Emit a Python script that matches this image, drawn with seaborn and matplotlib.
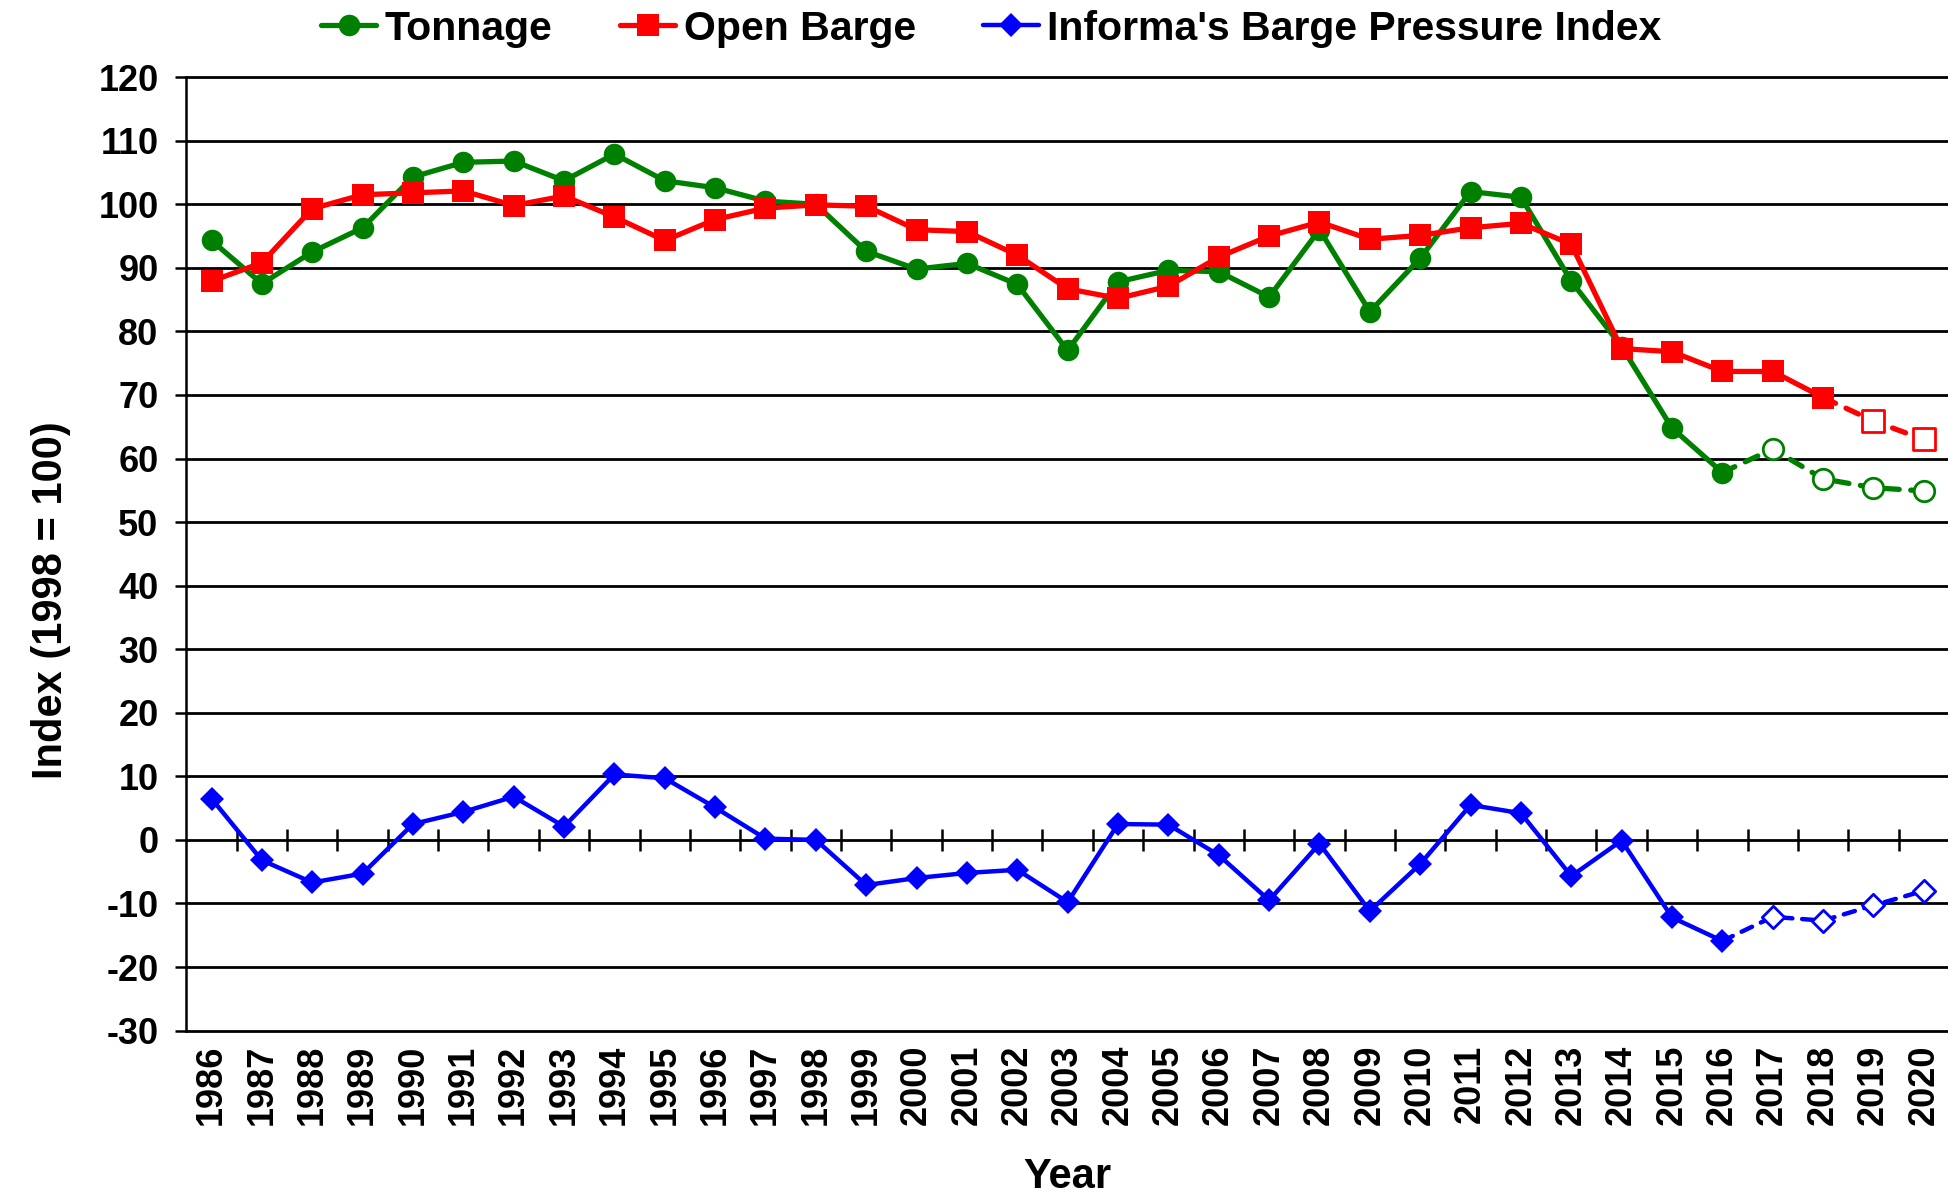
import numpy as np
import pandas as pd
import matplotlib
matplotlib.use("Agg")
import matplotlib.pyplot as plt
import seaborn as sns
from matplotlib.lines import Line2D

# ---------------- data ----------------
years = list(range(1986, 2021))
tonnage = [94.3, 87.5, 92.5, 96.3, 104.3, 106.6, 106.8, 103.7, 107.9, 103.7,
           102.6, 100.5, 100.0, 92.6, 89.8, 90.7, 87.4, 77.0, 87.8, 89.6,
           89.4, 85.4, 96.0, 83.1, 91.5, 102.0, 101.1, 87.9, 77.6, 64.8,
           57.8, 61.5, 56.8, 55.4, 54.9]
open_barge = [87.9, 90.8, 99.3, 101.5, 101.8, 102.1, 99.8, 101.3, 98.0, 94.3,
              97.6, 99.4, 99.9, 99.7, 96.0, 95.7, 92.0, 86.7, 85.2, 87.1,
              91.7, 95.0, 97.2, 94.5, 95.1, 96.3, 97.0, 93.7, 77.3, 76.8,
              73.7, 73.7, 69.6, 65.9, 63.0]
bpi = [6.5, -3.2, -6.7, -5.3, 2.5, 4.4, 6.8, 2.1, 10.3, 9.7,
       5.1, 0.2, 0.0, -7.1, -6.0, -5.2, -4.7, -9.8, 2.5, 2.4,
       -2.4, -9.5, -0.6, -11.2, -3.8, 5.5, 4.2, -5.7, -0.1, -12.2,
       -15.9, -12.1, -12.7, -10.3, -8.0]
series_names = ["Tonnage", "Open Barge", "Informa's Barge Pressure Index"]
last_actual = [2016, 2018, 2016]
yticks = list(range(-30, 121, 10))

# ---------------- style ----------------
sns.set_theme(style="white")
plt.rcParams["font.family"] = ["Liberation Sans", "DejaVu Sans"]
plt.rcParams["font.weight"] = "bold"
for key in ["text.color", "axes.labelcolor", "xtick.color", "ytick.color"]:
    plt.rcParams[key] = "black"

colors = ["#008000", "#FF0000", "#0000FF"]
markers = ["o", "s", "D"]
msizes = [15.5, 16, 12]
lws = [3.8, 3.8, 3.2]

fig = plt.figure(figsize=(19.49, 11.96), dpi=100)
ax = fig.add_axes([0.0956, 0.1383, 0.9044, 0.7972])

values = [tonnage, open_barge, bpi]
for vals, name, last, c, m, ms, lw in zip(values, series_names, last_actual,
                                          colors, markers, msizes, lws):
    df = pd.DataFrame({"Year": years, "Value": vals})
    solid = df[df["Year"] <= last]
    fut = df[df["Year"] >= last]
    proj = df[df["Year"] > last]
    sns.lineplot(data=fut, x="Year", y="Value", ax=ax, color=c, lw=lw,
                 linestyle=(0, (2.6, 2.2)), dash_capstyle="round", zorder=3)
    sns.lineplot(data=solid, x="Year", y="Value", ax=ax, color=c, lw=lw,
                 marker=m, markersize=ms, markeredgewidth=0,
                 markerfacecolor=c, zorder=4)
    sns.scatterplot(data=proj, x="Year", y="Value", ax=ax, marker=m,
                    s=(ms * 0.95) ** 2, facecolor="white", edgecolor=c,
                    linewidth=2.0, zorder=5)

# axes limits & ticks
ax.set_xlim(1985.5, 2020.5)
ax.set_ylim(-30, 120)
ax.set_yticks(yticks)
ax.set_yticklabels([str(v) for v in yticks], fontsize=26, fontweight="bold")
ax.set_xticks(years)
ax.set_xticklabels([str(y) for y in years], rotation=90, fontsize=26,
                   fontweight="bold")
ax.tick_params(axis="x", length=0, pad=10)
ax.tick_params(axis="y", direction="out", length=8, width=1.8, color="black",
               pad=12, left=True)

ax.grid(axis="y", color="black", lw=2.0)
ax.grid(axis="x", visible=False)
for gl in ax.get_ygridlines():
    gl.set_clip_on(False)
ax.set_axisbelow(True)

for s in ["top", "right", "bottom"]:
    ax.spines[s].set_visible(False)
ax.spines["left"].set_color("black")
ax.spines["left"].set_linewidth(1.8)

# crossing category ticks on the zero line
zero_pos = (0 - (-30)) / 150
sec = ax.secondary_xaxis(zero_pos)
sec.set_xticks(np.arange(1986.5, 2020, 1.0))
sec.tick_params(axis="x", direction="inout", length=16, width=1.8,
                color="black", labelbottom=False, labeltop=False,
                bottom=True, top=False)
for s in sec.spines.values():
    s.set_visible(False)

ax.set_xlabel("Year", fontsize=30, fontweight="bold", labelpad=23)
ax.set_ylabel("Index (1998 = 100)", fontsize=30, fontweight="bold",
              labelpad=20)
ax.yaxis.label.set_y(0.451)

handles = [Line2D([0], [0], color=c, lw=lw, marker=m, markersize=ms,
                  markeredgewidth=0)
           for c, m, ms, lw in zip(colors, markers, msizes, lws)]
fig.legend(handles, series_names, loc="center", bbox_to_anchor=(0.5085, 0.976),
           ncol=3, frameon=False, prop={"size": 29.5, "weight": "bold"},
           handlelength=1.35, handletextpad=0.2, columnspacing=1.65)

fig.savefig("out.png", dpi=100)
